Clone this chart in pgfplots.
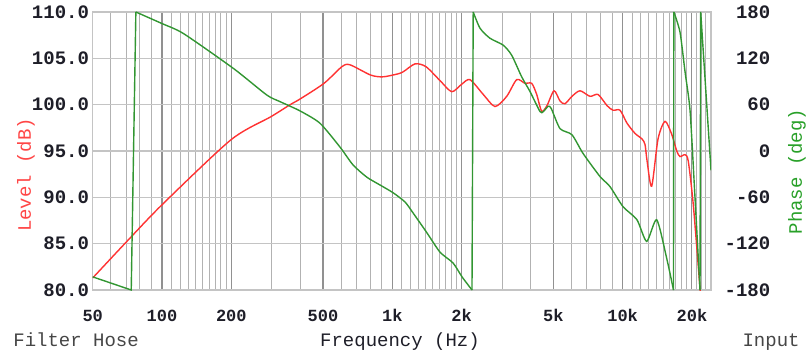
\documentclass[border=0pt]{standalone}
\usepackage{pgfplots}
\pgfplotsset{compat=1.18}
\usepackage{fontspec}
\setmainfont{Liberation Mono}
\definecolor{lvl}{RGB}{255,50,50}
\definecolor{ph}{RGB}{50,150,50}
\definecolor{txt}{RGB}{30,30,40}
\definecolor{txtl}{RGB}{70,70,70}
\definecolor{lbl}{RGB}{255,70,70}
\definecolor{lblg}{RGB}{40,160,40}
\definecolor{hgrid}{RGB}{196,196,196}
\definecolor{vmaj}{RGB}{145,145,145}
\definecolor{vmin}{RGB}{178,178,178}
\pgfplotstableread{
f L
50 81.3
70.1 85.2
100 89.2
199 96.2
297 98.7
360 100.0
397 100.6
505 102.3
604 104.1
655 104.3
804 103.2
902 103.0
1007 103.2
1107 103.5
1254 104.4
1400 104.1
1611 102.6
1811 101.4
2000 102.2
2174 102.7
2483 101.1
2792 99.8
3139 100.9
3468 102.7
3769 102.3
4029 102.3
4236 101.1
4452 99.3
4695 99.9
5036 101.5
5347 100.4
5620 100.1
6028 100.9
6531 101.5
7217 100.9
7820 101.1
8555 99.9
9083 99.4
9744 99.4
10450 98.0
11320 96.9
12140 96.3
12510 95.7
12760 94.0
13370 91.2
14250 96.3
15280 98.2
16340 96.8
17180 95.0
17750 94.4
18660 94.6
19280 93.9
20270 89.2
21680 80.2
22000 78.5
}\level
\begin{document}
\begin{tikzpicture}[x=1pt,y=1pt]
\path[use as bounding box] (-92.7,-61) rectangle (715.3,290);
\begin{axis}[
  at={(0,0)}, anchor=south west,
  scale only axis, width=618.3pt, height=278pt,
  xmode=log, xmin=50, xmax=24200, ymin=80, ymax=110,
  axis line style={hgrid, line width=1.2pt},
  major tick length=0pt, minor tick length=0pt,
  xtick={50,100,200,500,1000,2000,5000,10000,20000},
  xticklabels={50,100,200,500,1k,2k,5k,10k,20k},
  minor xtick={60,70,80,90,110,120,130,140,150,160,170,180,190,300,400,600,700,800,900,1100,1200,1300,1400,1500,1600,1700,1800,1900,3000,4000,6000,7000,8000,9000,11000,12000,13000,14000,15000,16000,17000,18000,19000,21000,22000,23000,24000},
  ytick={80,85,90,95,100,105,110},
  yticklabels={80.0,85.0,90.0,95.0,100.0,105.0,110.0},
  xmajorgrids, xminorgrids, ymajorgrids,
  major x grid style={vmaj, line width=1.1pt},
  minor x grid style={vmin, line width=1pt},
  major y grid style={hgrid, line width=1.6pt},
  tick label style={text=txt, inner sep=0pt},
  xticklabel style={font=\fontsize{17}{17}\selectfont\bfseries, anchor=base, yshift=-31pt},
  yticklabel style={font=\fontsize{19}{19}\selectfont\bfseries, anchor=east, xshift=-3.5pt},
  clip mode=individual,
]
\addplot[lvl, line width=1.4pt, smooth, tension=0.45] table[x=f, y=L] {\level};
\node[rotate=90, text=lbl, font=\fontsize{19}{19}\selectfont] at (axis description cs:-0.108,0.414) {Level (dB)};
\node[anchor=base west, text=txtl, font=\fontsize{19}{19}\selectfont] at (axis description cs:-0.134,-0.205) {Filter Hose};
\node[anchor=base, text=txt, font=\fontsize{19}{19}\selectfont] at (axis description cs:0.497,-0.205) {Frequency (Hz)};
\node[anchor=base east, text=txtl, font=\fontsize{19}{19}\selectfont] at (axis description cs:1.149,-0.205) {Input};
\end{axis}
\begin{axis}[
  at={(0,0)}, anchor=south west,
  scale only axis, width=618.3pt, height=278pt,
  xmode=log, xmin=50, xmax=24200, ymin=-180, ymax=180,
  axis x line=none, axis y line*=right,
  axis line style={hgrid, line width=1.2pt},
  major tick length=0pt,
  ytick={-180,-120,-60,0,60,120,180},
  yticklabels={-180,-120,-60,0,60,120,180},
  yticklabel style={font=\fontsize{19}{19}\selectfont\bfseries, text=txt, inner sep=0pt, text width=50pt, align=right, anchor=west, xshift=9pt},
  clip mode=individual,
]
\addplot[ph, line width=1.4pt] coordinates {(50,-163) (73.5,-180) (77,180)};
\addplot[ph, line width=1.4pt, smooth, tension=0.4] coordinates {
(77,180) (100,165) (124,152) (204,107) (285,72.5) (325,64) (397,52) (485,36) (593,5) (675,-18) (776,-34) (884,-44) (1007,-54) (1135,-66) (1229,-80) (1414,-106) (1611,-131) (1835,-145) (2008,-163) (2218,-180)};
\addplot[ph, line width=1.4pt] coordinates {(2218,-180) (2245,180)};
\addplot[ph, line width=1.4pt, smooth, tension=0.4] coordinates {
(2245,180) (2403,159) (2655,146) (3033,137) (3299,124) (3646,96) (3962,77) (4380,51) (4525,51) (4756,58) (4900,55) (5347,29) (6028,21) (6728,-3) (7974,-33) (8810,-46) (10035,-72) (11540,-89) (12720,-117) (14060,-89) (15540,-139) (16630,-180)};
\addplot[ph, line width=1.4pt] coordinates {(16630,-180) (16690,180)};
\addplot[ph, line width=1.4pt, smooth, tension=0.4] coordinates {
(16690,180) (17750,154) (18660,103) (19620,53) (20480,-44) (21680,-180)};
\addplot[ph, line width=1.4pt] coordinates {(21680,-180) (21830,180) (24200,-25)};
\node[rotate=90, text=lblg, font=\fontsize{19}{19}\selectfont] at (axis description cs:1.139,0.426) {Phase (deg)};
\end{axis}
\end{tikzpicture}
\end{document}
